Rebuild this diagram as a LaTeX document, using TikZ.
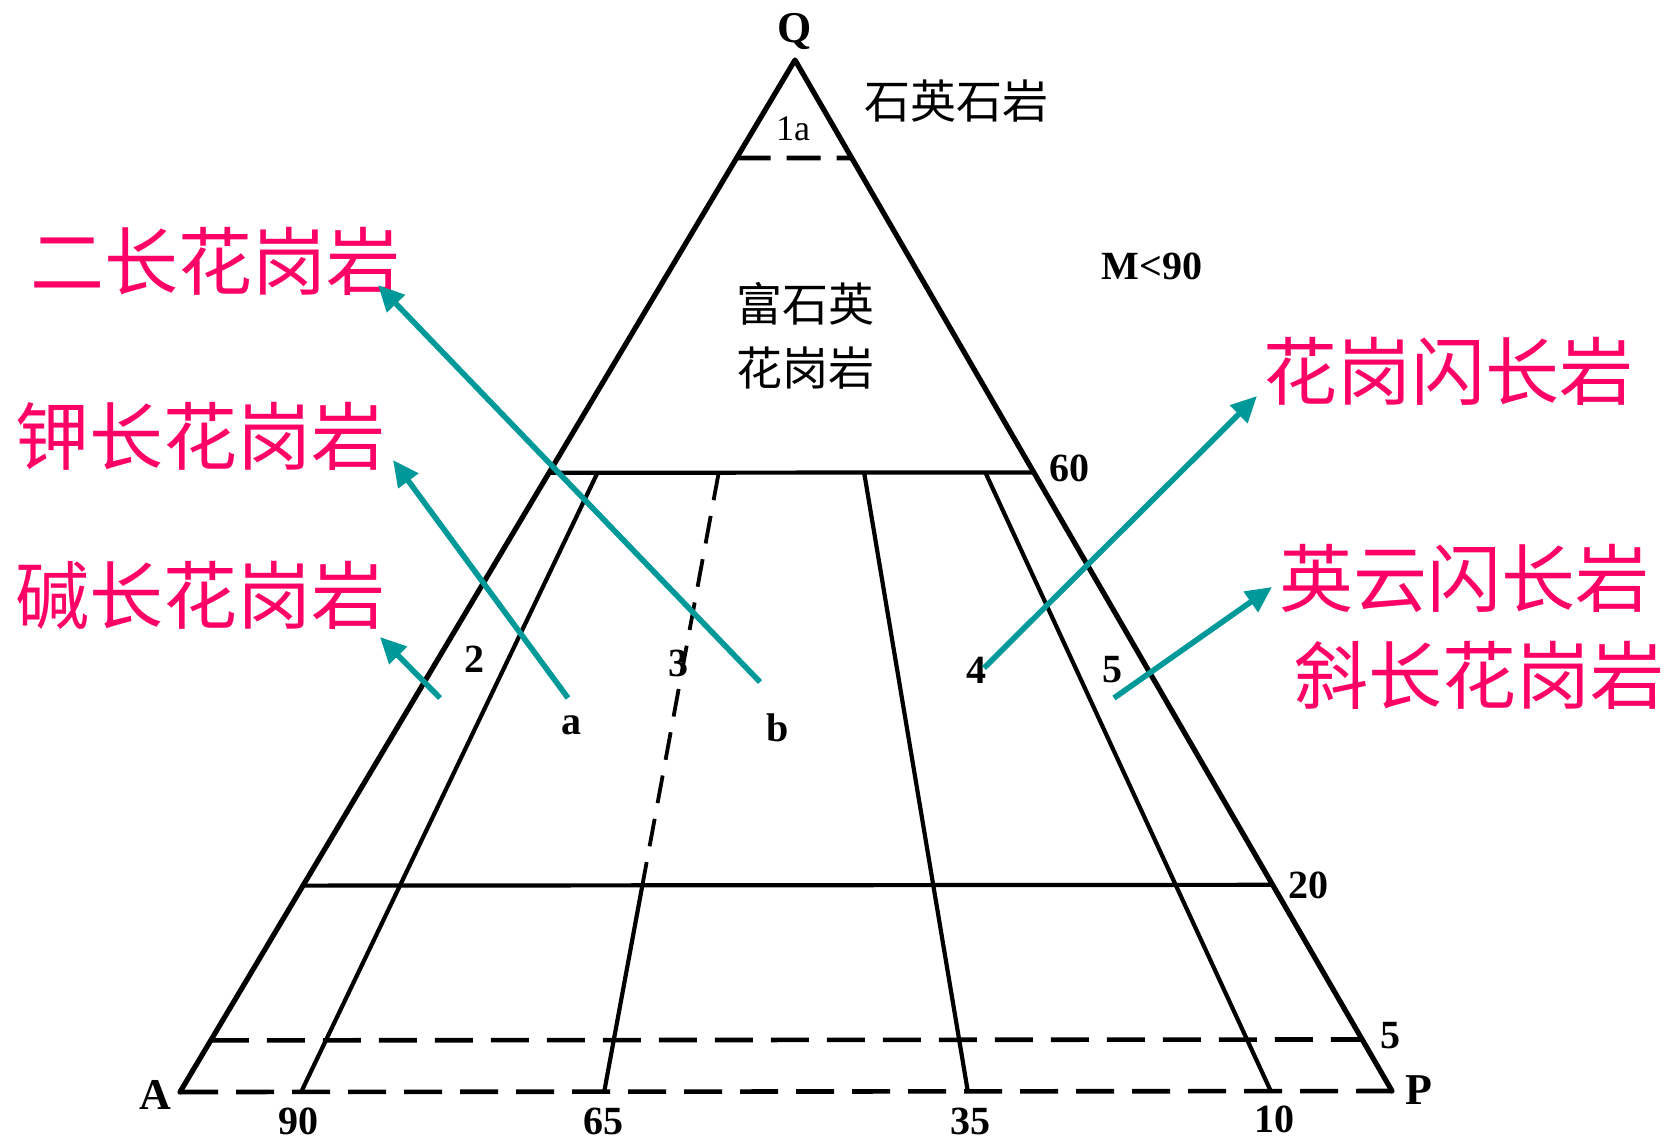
\documentclass[tikz,border=0pt]{standalone}
\usepackage{fontspec}
\setmainfont{Liberation Serif}
\newfontfamily\cjk{Noto Sans CJK SC}
\usetikzlibrary{arrows.meta}
\definecolor{lab}{HTML}{FF0066}
\definecolor{arr}{HTML}{009999}
\tikzset{
  edge/.style={line width=2.6pt, line cap=round, line join=round},
  inner/.style={line width=2.1pt},
  dsh/.style={line width=2.3pt, dash pattern=on 19pt off 9pt},
  num/.style={font=\fontsize{20}{23}\selectfont\bfseries, inner sep=0pt},
  bignum/.style={font=\fontsize{22}{25}\selectfont\bfseries, inner sep=0pt},
  blk/.style={font=\cjk\fontsize{23}{30}\selectfont, inner sep=0pt, align=center},
  pink/.style={font=\cjk\fontsize{37}{44}\selectfont, text=lab, inner sep=0pt},
  tarrow/.style={draw=arr, line width=2.8pt, -{Triangle[length=13pt,width=12pt]}}
}
\begin{document}
\begin{tikzpicture}[x=0.5pt,y=-0.5pt]
\useasboundingbox (0,0) rectangle (1668,1141);
\fill[white] (0,0) rectangle (1668,1141);
% corners
\coordinate (A) at (180,1092);
\coordinate (P) at (1392,1091);
\coordinate (Q) at (795,60);
% horizontal levels
\coordinate (T1) at (barycentric cs:A=0.095,P=0,Q=0.905);
\coordinate (T2) at (barycentric cs:A=0,P=0.095,Q=0.905);
\coordinate (S1) at (barycentric cs:A=0.4,P=0,Q=0.6);
\coordinate (S2) at (barycentric cs:A=0,P=0.4,Q=0.6);
\coordinate (U1) at (barycentric cs:A=0.8,P=0,Q=0.2);
\coordinate (U2) at (barycentric cs:A=0,P=0.8,Q=0.2);
\coordinate (V1) at (barycentric cs:A=0.95,P=0,Q=0.05);
\coordinate (V2) at (barycentric cs:A=0,P=0.95,Q=0.05);
% ray lines: 90, 65, 35, 10
\coordinate (r90t) at (barycentric cs:A=0.36,P=0.04,Q=0.6);
\coordinate (r90b) at (barycentric cs:A=0.9,P=0.1,Q=0);
\coordinate (r65t) at (barycentric cs:A=0.26,P=0.14,Q=0.6);
\coordinate (r65m) at (barycentric cs:A=0.52,P=0.28,Q=0.2);
\coordinate (r65b) at (barycentric cs:A=0.65,P=0.35,Q=0);
\coordinate (r35t) at (barycentric cs:A=0.14,P=0.26,Q=0.6);
\coordinate (r35b) at (barycentric cs:A=0.35,P=0.65,Q=0);
\coordinate (r10t) at (barycentric cs:A=0.04,P=0.36,Q=0.6);
\coordinate (r10b) at (barycentric cs:A=0.1,P=0.9,Q=0);

% dashed lines
\draw[dsh] (A) -- (P);
\draw[dsh] (V1) -- (V2);
\draw[dsh, dash pattern=on 17pt off 8pt] (T1) -- (T2);
\draw[dsh, line width=1.9pt, dash pattern=on 14pt off 8pt] (r65t) -- (r65m);
% solid inner lines
\draw[inner] (S1) -- (S2);
\draw[inner] (U1) -- (U2);
\draw[inner] (r90t) -- (r90b);
\draw[inner] (r65m) -- (r65b);
\draw[inner] (r35t) -- (r35b);
\draw[inner] (r10t) -- (r10b);
% triangle
\draw[edge] (A) -- (Q) -- (P);

% vertex and scale labels
\node[bignum] (lQ) at (795,31) {Q};
\node[bignum] (lA) at (155,1095) {A};
\node[bignum] (lP) at (1419,1090) {P};
\node[num, font=\fontsize{18}{20}\selectfont] (l1a) at (793,129) {1a};
\node[num] (l60) at (1069,468) {60};
\node[num] (l20) at (1308,885) {20};
\node[num] (l5r) at (1390,1036) {5};
\node[num] (l90) at (298,1121) {90};
\node[num] (l65) at (603,1121) {65};
\node[num] (l35) at (970,1121) {35};
\node[num] (l10) at (1274,1119) {10};
\node[num] (lM) at (1152,266) {M<90};
% field numbers
\node[num] (f2) at (474,659) {2};
\node[num] (f3) at (678,663) {3};
\node[num] (f4) at (976,670) {4};
\node[num] (f5) at (1112,670) {5};
\node[num] (fa) at (571,725) {a};
\node[num] (fb) at (778,728) {b};

% black Chinese labels
\node[blk] (qtz) at (956,101) {石英石岩};
\node[blk, text width=150pt] (rich) at (805,336) {富石英\\[2pt]花岗岩};

% pink labels
\node[pink] (ez) at (215,261) {二长花岗岩};
\node[pink] (jia) at (200,436) {钾长花岗岩};
\node[pink] (jian) at (200,595) {碱长花岗岩};
\node[pink] (hgs) at (1448,371) {花岗闪长岩};
\node[pink] (yy) at (1464,578) {英云闪长岩};
\node[pink] (xie) at (1479,675) {斜长花岗岩};

% arrow endpoints
\coordinate (sb) at (760,682);
\coordinate (tb) at (378,285);
\coordinate (sa) at (568,698);
\coordinate (ta) at (393,460);
\coordinate (sk) at (440,698);
\coordinate (tk) at (380,637);
\coordinate (s4) at (984,668);
\coordinate (t4) at (1257,396);
\coordinate (s5) at (1114,698);
\coordinate (t5) at (1272,587);
\draw[tarrow] (sb) -- (tb);
\draw[tarrow] (sa) -- (ta);
\draw[tarrow] (sk) -- (tk);
\draw[tarrow] (s4) -- (t4);
\draw[tarrow] (s5) -- (t5);
\end{tikzpicture}
\end{document}
